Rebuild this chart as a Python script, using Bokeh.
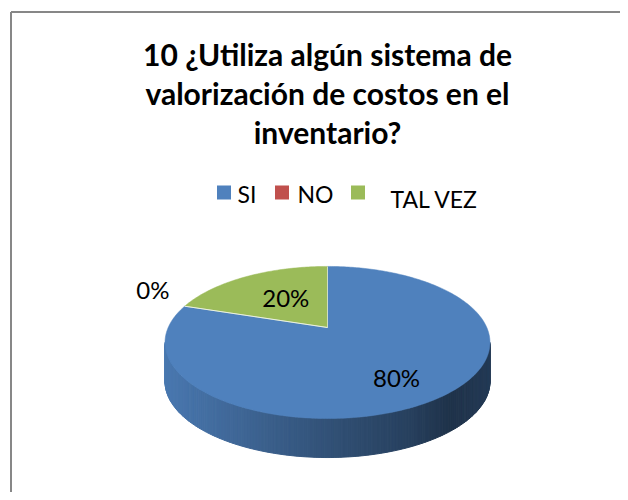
import numpy as np
from bokeh.plotting import figure
from bokeh.models import Range1d
from bokeh.core.properties import value
from bokeh.embed import file_html
from bokeh.resources import INLINE

# ---------------- data ----------------
title_lines = ["10 ¿Utiliza algún sistema de",
               "valorización de costos en el",
               "inventario?"]
categories = ["SI", "NO", "TAL VEZ"]
values = [80, 0, 20]
slice_colors = ["#4F81BD", "#C0504D", "#9BBB59"]

# ---------------- layout / style ----------------
FONT = "Lato"
W, H = 620, 492
p = figure(width=W, height=H, x_range=Range1d(0, W), y_range=Range1d(H, 0),
           output_backend="svg", toolbar_location=None, min_border=0,
           x_axis_location=None, y_axis_location=None)
p.grid.visible = False
p.outline_line_color = None
p.background_fill_color = "white"
p.border_fill_color = "white"

# chart border (left and top edges visible)
p.line([10.5, 10.5], [H, 11.5], line_color="#878787", line_width=2)
p.line([10.5, W], [11.5, 11.5], line_color="#878787", line_width=2)

# title
title_y = [53, 92, 131]
p.text(x=[327] * 3, y=title_y, text=title_lines, text_font=value(FONT),
       text_font_style="bold", text_font_size="30px", text_align="center",
       text_baseline="middle", text_color="black")

# legend
leg_sq_x = [223.5, 281.5, 357.5]
leg_txt_x = [237, 297, 390]
leg_txt_y = [193, 193, 198]
p.scatter(x=leg_sq_x, y=[192] * 3, marker="square", size=14,
          fill_color=slice_colors, line_color=None)
p.text(x=leg_txt_x, y=leg_txt_y, text=categories, text_font=value(FONT),
       text_font_size="23px", text_align="left", text_baseline="middle",
       text_color="black")

# ---------------- 3-D pie geometry (perspective) ----------------
CX, CY = 327.0, 327.0      # projected pie centre
SX, SY = 159.3, 73.1       # horizontal / vertical projected radius
K = 0.197                  # perspective strength
DEPTH = 39.0               # thickness of the pie


def proj(theta, r=1.0):
    w = 1.0 + K * r * np.sin(theta)
    return CX + SX * r * np.cos(theta) / w, CY - SY * r * np.sin(theta) / w


total = float(sum(values))
fracs = np.array(values) / total
cum = np.concatenate([[0.0], np.cumsum(fracs)])
starts = np.pi / 2 - 2 * np.pi * cum[:-1]
ends = np.pi / 2 - 2 * np.pi * cum[1:]


def hex2rgb(h):
    h = h.lstrip("#")
    return np.array([int(h[i:i + 2], 16) for i in (0, 2, 4)], dtype=float)


def rgb2hex(c):
    c = np.clip(c, 0, 255).round().astype(int)
    return "#%02x%02x%02x" % tuple(c)


shade_pos = [0.0, 0.25, 0.5, 0.75, 0.88, 1.0]
shade_mul = [0.93, 0.78, 0.63, 0.50, 0.39, 0.45]

# side (front visible arc)
tL = np.pi + np.arcsin(K)
tR = 2 * np.pi - np.arcsin(K)
N = 160
ts = np.linspace(tL, tR, N + 1)
xL, _ = proj(tL)
xR, _ = proj(tR)
side_xs, side_ys, side_cols = [], [], []
for i in range(N):
    t0, t1 = ts[i], ts[i + 1]
    x0, y0 = proj(t0)
    x1, y1 = proj(t1)
    tm = 0.5 * (t0 + t1)
    fr = ((np.pi / 2 - tm) % (2 * np.pi)) / (2 * np.pi)
    idx = int(np.searchsorted(cum[1:], fr, side="right"))
    idx = min(idx, len(values) - 1)
    xm = 0.5 * (x0 + x1)
    m = np.interp((xm - xL) / (xR - xL), shade_pos, shade_mul)
    col = rgb2hex(hex2rgb(slice_colors[idx]) * m)
    side_xs.append([x0, x1, x1, x0])
    side_ys.append([y0, y1, y1 + DEPTH, y0 + DEPTH])
    side_cols.append(col)
p.patches(xs=side_xs, ys=side_ys, fill_color=side_cols, line_color=side_cols,
          line_width=1)

# top wedges
top_xs, top_ys, top_cols = [], [], []
for a0, a1, v, c in zip(starts, ends, values, slice_colors):
    if v <= 0:
        continue
    n = max(int(abs(a1 - a0) / (2 * np.pi) * 400), 8)
    th = np.linspace(a0, a1, n)
    ax, ay = proj(th)
    top_xs.append(np.concatenate([[CX], ax]).tolist())
    top_ys.append(np.concatenate([[CY], ay]).tolist())
    top_cols.append(c)
p.patches(xs=top_xs, ys=top_ys, fill_color=top_cols, line_color=top_cols,
          line_width=0.5)

# light separators between slices
for a0 in starts:
    bx, by = proj(a0)
    p.line([CX, bx], [CY, by], line_color="white", line_alpha=0.55, line_width=1)

# data labels (placed along each slice's mid-angle)
label_r = [0.66, 1.24, 0.48]
label_dy = [6, -12, -4]
lx, ly, lt = [], [], []
for a0, a1, v, r, dy in zip(starts, ends, values, label_r, label_dy):
    mx, my = proj(0.5 * (a0 + a1), r)
    lx.append(mx)
    ly.append(my + dy)
    lt.append("%d%%" % round(100 * v / total))
p.text(x=lx, y=ly, text=lt, text_font=value(FONT), text_font_size="24px",
       text_align="center", text_baseline="middle", text_color="black")

open("out.html", "w").write(file_html(p, INLINE))
